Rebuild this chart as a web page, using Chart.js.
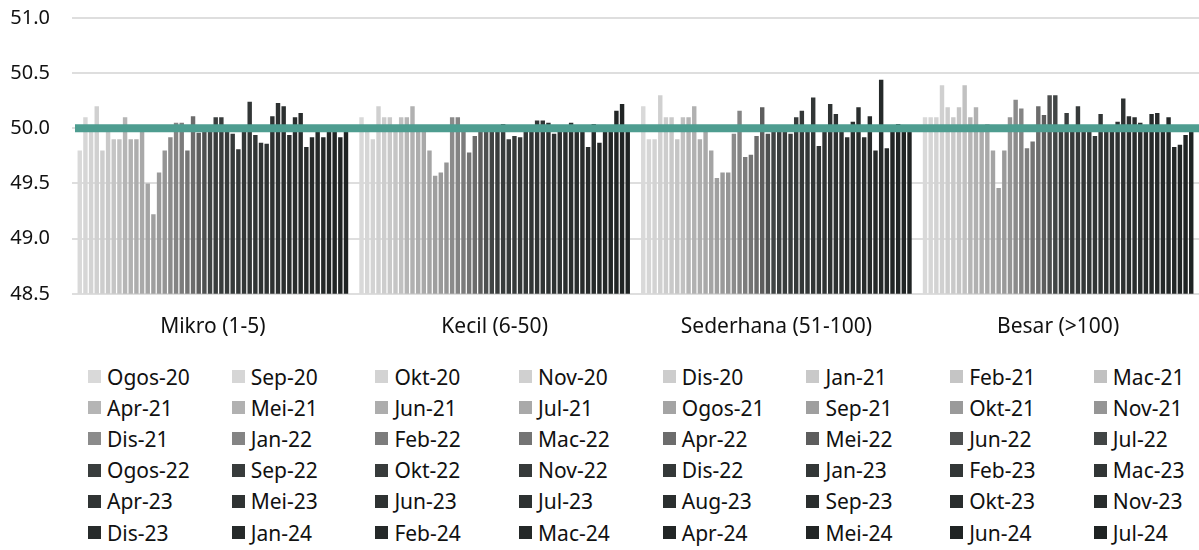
<!DOCTYPE html>
<html>
<head>
<meta charset="utf-8">
<script src="https://cdn.jsdelivr.net/npm/chart.js@4.4.1/dist/chart.umd.min.js"></script>
<style>
body { margin:0; background:#fff; font-family:"Noto Sans", sans-serif; }
#wrap { position:relative; width:1199px; height:361px; }
#legend { position:absolute; left:88px; top:361px; display:grid; grid-template-columns:repeat(8, 143.7px); grid-auto-rows:31.2px; }
#legend div { display:flex; align-items:center; font-size:21px; color:#111; white-space:nowrap; }
#legend span.box { display:inline-block; width:13px; height:13px; margin-right:6px; }
</style>
</head>
<body>
<div id="wrap"><canvas id="canvas1"></canvas></div>
<div id="legend"></div>
<script>
// categorieen (x-as)
var categories = ['Mikro (1-5)', 'Kecil (6-50)', 'Sederhana (51-100)', 'Besar (>100)'];

// maanden = de 48 series
var months = ['Ogos-20','Sep-20','Okt-20','Nov-20','Dis-20','Jan-21','Feb-21','Mac-21',
  'Apr-21','Mei-21','Jun-21','Jul-21','Ogos-21','Sep-21','Okt-21','Nov-21',
  'Dis-21','Jan-22','Feb-22','Mac-22','Apr-22','Mei-22','Jun-22','Jul-22',
  'Ogos-22','Sep-22','Okt-22','Nov-22','Dis-22','Jan-23','Feb-23','Mac-23',
  'Apr-23','Mei-23','Jun-23','Jul-23','Aug-23','Sep-23','Okt-23','Nov-23',
  'Dis-23','Jan-24','Feb-24','Mac-24','Apr-24','Mei-24','Jun-24','Jul-24'];

// waarden per categorie, een per maand
var mikro = [49.8, 50.1, 50.0, 50.2, 49.8, 49.97, 49.9, 49.9, 50.1, 49.9, 49.9, 49.97,
  49.5, 49.22, 49.6, 49.8, 49.92, 50.05, 50.05, 49.8, 50.11, 49.96, 49.98, 49.98,
  50.1, 50.1, 49.97, 49.95, 49.81, 49.98, 50.24, 49.94, 49.87, 49.86, 50.11, 50.23,
  50.2, 49.94, 50.1, 50.14, 49.83, 49.92, 49.98, 49.92, 49.98, 49.98, 49.92, 49.98];
var kecil = [50.1, 50.0, 49.9, 50.2, 50.1, 50.1, 50.0, 50.1, 50.1, 50.2, 50.0, 50.0,
  49.8, 49.57, 49.6, 49.69, 50.1, 50.1, 49.98, 49.78, 49.93, 49.98, 49.98, 49.98,
  49.98, 50.04, 49.9, 49.93, 49.92, 49.98, 49.98, 50.07, 50.07, 50.05, 49.95, 49.98,
  49.98, 50.05, 49.98, 49.98, 49.83, 50.04, 49.87, 49.98, 49.98, 50.16, 50.22, 49.98];
var sederhana = [50.2, 49.9, 49.9, 50.3, 50.1, 50.1, 49.9, 50.1, 50.1, 50.2, 49.9, 49.97,
  49.8, 49.55, 49.6, 49.6, 49.95, 50.16, 49.74, 49.76, 49.93, 50.19, 49.95, 49.98,
  49.98, 49.98, 49.95, 50.1, 50.16, 49.98, 50.28, 49.84, 49.98, 50.22, 50.13, 49.98,
  49.92, 50.06, 50.19, 49.92, 50.11, 49.8, 50.44, 49.82, 49.98, 50.04, 49.98, 49.98];
var besar = [50.1, 50.1, 50.1, 50.39, 50.19, 50.1, 50.19, 50.39, 50.1, 50.19, 49.98, 50.04,
  49.8, 49.46, 49.8, 50.1, 50.26, 50.18, 49.82, 49.88, 50.2, 50.12, 50.3, 50.3,
  49.98, 50.14, 49.98, 50.2, 49.98, 49.98, 49.93, 50.13, 49.98, 49.98, 50.06, 50.27,
  50.11, 50.1, 50.05, 49.98, 50.13, 50.14, 49.98, 50.1, 49.83, 49.85, 49.94, 49.98];

var yTicks = [48.5, 49.0, 49.5, 50.0, 50.5, 51.0];
var threshold = 50.0; // de groene lijn

// grijstinten, licht naar donker
var greys = ['#d9d9d9','#d6d6d6','#d3d3d3','#d0d0d0','#cdcdcd','#c9c9c9','#c5c5c5','#c1c1c1',
  '#b5b5b5','#b1b1b1','#adadad','#a9a9a9','#a4a4a4','#9f9f9f','#9a9a9a','#959595',
  '#8b8b8b','#848484','#7c7c7c','#747474','#6c6c6c','#5d5d5d','#4e5050','#414545'];
function greyFor(i) {
  if (i < greys.length) return greys[i];
  var t = (i - 24) / 23;
  var r = Math.round(0x39 + (0x1f - 0x39) * t);
  var g = Math.round(0x3d + (0x23 - 0x3d) * t);
  return 'rgb(' + r + ',' + g + ',' + g + ')';
}

var dataset = [];
for (var i = 0; i < months.length; i++) {
  dataset.push({
    label: months[i],
    data: [mikro[i], kecil[i], sederhana[i], besar[i]],
    backgroundColor: greyFor(i),
    borderWidth: 0,
    barPercentage: 0.78,
    categoryPercentage: 0.965
  });
}

// lijn op 50.0 over de bars heen
var lineAt50 = {
  id: 'lineAt50',
  afterDatasetsDraw: function(chart) {
    var y = chart.scales.y.getPixelForValue(threshold);
    var ctx = chart.ctx;
    ctx.save();
    ctx.strokeStyle = '#4e9d90';
    ctx.lineWidth = 8;
    ctx.beginPath();
    ctx.moveTo(chart.chartArea.left + 3, y);
    ctx.lineTo(chart.chartArea.right, y);
    ctx.stroke();
    ctx.restore();
  }
};

var ctx = document.getElementById('canvas1').getContext('2d');
var myChart = new Chart(ctx, {
  type: 'bar',
  data: { labels: categories, datasets: dataset },
  plugins: [lineAt50],
  options: {
    responsive: true,
    maintainAspectRatio: false,
    animation: false,
    layout: { padding: { top: 18, right: 0, bottom: 0, left: 0 } },
    plugins: { legend: { display: false }, tooltip: { enabled: false } },
    scales: {
      x: {
        grid: { display: false, drawTicks: false },
        border: { display: false },
        ticks: { color: '#111', font: { family: 'Noto Sans', size: 21 }, padding: 21, maxRotation: 0 }
      },
      y: {
        min: yTicks[0],
        max: yTicks[yTicks.length - 1],
        afterBuildTicks: function(s) { s.ticks = yTicks.map(function(v) { return { value: v }; }); },
        afterFit: function(s) { s.width = 72; s.paddingTop = 0; s.paddingBottom = 0; },
        grid: { color: '#dedede', lineWidth: 2, drawTicks: false },
        border: { display: false },
        ticks: {
          color: '#111', font: { family: 'Noto Sans', size: 20 }, padding: 22,
          callback: function(v) { return Number(v).toFixed(1); }
        }
      }
    }
  }
});

// legenda als raster van 8 kolommen
var legend = document.getElementById('legend');
for (var k = 0; k < myChart.data.datasets.length; k++) {
  var item = document.createElement('div');
  var box = document.createElement('span');
  box.className = 'box';
  box.style.background = myChart.data.datasets[k].backgroundColor;
  item.appendChild(box);
  item.appendChild(document.createTextNode(myChart.data.datasets[k].label));
  legend.appendChild(item);
}
</script>
</body>
</html>
